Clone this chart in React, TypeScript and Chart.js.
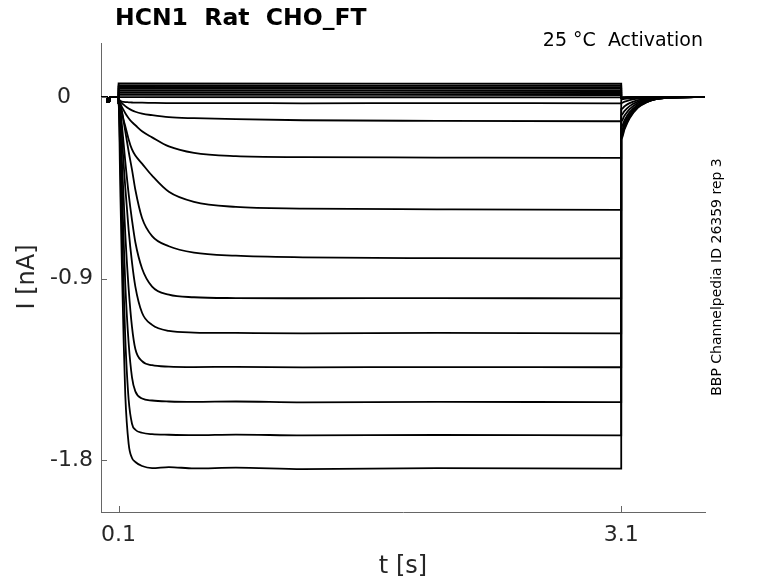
import React, { useEffect, useRef } from 'react';
import Chart from 'chart.js/auto';

// time bases (s)
const TIME_PRE = [0, 0.03, 0.031, 0.045, 0.046, 0.1];
const BASELINE = [0, 0, -0.025, -0.025, 0, 0];
const TIME_STEP = [0.1, 0.11, 0.12, 0.13, 0.14, 0.16, 0.18, 0.2, 0.24, 0.3, 0.4, 0.55, 0.8, 1.2, 2.0, 3.1];
const TIME_FLAT = [0.1, 3.1];
const TIME_TAIL = [3.1, 3.12, 3.15, 3.2, 3.25, 3.3, 3.4, 3.6];

// hyperpolarising sweeps, current in nA
const STEP_A = [-0.03, -0.45, -0.85, -1.2, -1.48, -1.72, -1.79, -1.81, -1.83, -1.84, -1.835, -1.842, -1.838, -1.845, -1.84, -1.843];
const TAIL_A = [-0.21, -0.16, -0.105, -0.052, -0.027, -0.012, -0.003, 0];
const STEP_B = [-0.03, -0.3, -0.62, -0.95, -1.2, -1.5, -1.62, -1.65, -1.665, -1.672, -1.675, -1.677, -1.674, -1.678, -1.676, -1.678];
const TAIL_B = [-0.2, -0.152, -0.1, -0.05, -0.026, -0.012, -0.003, 0];
const STEP_C = [-0.03, -0.2, -0.45, -0.7, -0.93, -1.22, -1.39, -1.46, -1.495, -1.505, -1.51, -1.512, -1.51, -1.514, -1.512, -1.513];
const TAIL_C = [-0.19, -0.145, -0.095, -0.048, -0.025, -0.011, -0.003, 0];
const STEP_D = [-0.03, -0.14, -0.32, -0.5, -0.68, -0.95, -1.14, -1.25, -1.31, -1.33, -1.337, -1.339, -1.338, -1.341, -1.339, -1.34];
const TAIL_D = [-0.18, -0.137, -0.09, -0.045, -0.023, -0.011, -0.003, 0];
const STEP_E = [-0.03, -0.09, -0.2, -0.33, -0.45, -0.66, -0.82, -0.94, -1.07, -1.13, -1.16, -1.168, -1.17, -1.172, -1.17, -1.172];
const TAIL_E = [-0.17, -0.13, -0.085, -0.043, -0.022, -0.01, -0.003, 0];
const STEP_F = [-0.03, -0.06, -0.14, -0.23, -0.32, -0.48, -0.61, -0.72, -0.85, -0.94, -0.98, -0.993, -0.997, -0.998, -0.997, -0.999];
const TAIL_F = [-0.15, -0.115, -0.075, -0.038, -0.019, -0.009, -0.002, 0];
const STEP_G = [-0.03, -0.04, -0.07, -0.12, -0.17, -0.27, -0.36, -0.46, -0.6, -0.69, -0.74, -0.772, -0.787, -0.795, -0.799, -0.8];
const TAIL_G = [-0.12, -0.092, -0.06, -0.03, -0.015, -0.007, -0.002, 0];
const STEP_H = [-0.025, -0.045, -0.08, -0.115, -0.145, -0.21, -0.26, -0.29, -0.33, -0.39, -0.47, -0.52, -0.545, -0.553, -0.557, -0.56];
const TAIL_H = [-0.09, -0.069, -0.045, -0.023, -0.012, -0.005, -0.001, 0];
const STEP_I = [-0.02, -0.03, -0.05, -0.065, -0.08, -0.105, -0.125, -0.14, -0.17, -0.2, -0.245, -0.277, -0.293, -0.298, -0.3, -0.302];
const TAIL_I = [-0.06, -0.046, -0.03, -0.015, -0.008, -0.004, -0.001, 0];
const STEP_J = [-0.015, -0.02, -0.03, -0.038, -0.045, -0.057, -0.066, -0.073, -0.082, -0.09, -0.1, -0.105, -0.11, -0.115, -0.118, -0.12];
const TAIL_J = [-0.03, -0.023, -0.015, -0.008, -0.004, -0.002, 0, 0];
const STEP_K = [-0.012, -0.018, -0.022, -0.024, -0.025, -0.026, -0.027, -0.028, -0.028, -0.029, -0.03, -0.03, -0.03, -0.031, -0.03, -0.031];
const TAIL_K = [-0.012, -0.009, -0.006, -0.003, -0.001, 0, 0, 0];

// near-zero and depolarising sweeps (flat)
const FLAT_0 = [0.0, -0.002];
const FLAT_1 = [0.012, 0.01];
const FLAT_2 = [0.022, 0.02];
const FLAT_3 = [0.032, 0.03];
const FLAT_4 = [0.042, 0.04];
const FLAT_5 = [0.05, 0.048];
const FLAT_6 = [0.058, 0.056];
const FLAT_7 = [0.068, 0.066];
const TAIL_FLAT = [-0.004, -0.003, -0.002, -0.001, 0, 0, 0, 0];

const TRACES = [
  { times: TIME_STEP, step: STEP_A, tail: TAIL_A },
  { times: TIME_STEP, step: STEP_B, tail: TAIL_B },
  { times: TIME_STEP, step: STEP_C, tail: TAIL_C },
  { times: TIME_STEP, step: STEP_D, tail: TAIL_D },
  { times: TIME_STEP, step: STEP_E, tail: TAIL_E },
  { times: TIME_STEP, step: STEP_F, tail: TAIL_F },
  { times: TIME_STEP, step: STEP_G, tail: TAIL_G },
  { times: TIME_STEP, step: STEP_H, tail: TAIL_H },
  { times: TIME_STEP, step: STEP_I, tail: TAIL_I },
  { times: TIME_STEP, step: STEP_J, tail: TAIL_J },
  { times: TIME_STEP, step: STEP_K, tail: TAIL_K },
  { times: TIME_FLAT, step: FLAT_0, tail: TAIL_FLAT },
  { times: TIME_FLAT, step: FLAT_1, tail: TAIL_FLAT },
  { times: TIME_FLAT, step: FLAT_2, tail: TAIL_FLAT },
  { times: TIME_FLAT, step: FLAT_3, tail: TAIL_FLAT },
  { times: TIME_FLAT, step: FLAT_4, tail: TAIL_FLAT },
  { times: TIME_FLAT, step: FLAT_5, tail: TAIL_FLAT },
  { times: TIME_FLAT, step: FLAT_6, tail: TAIL_FLAT },
  { times: TIME_FLAT, step: FLAT_7, tail: TAIL_FLAT },
];

const X_TICKS = [0.1, 3.1];
const X_TICK_LABELS = ['0.1', '3.1'];
const Y_TICKS = [-1.8, -0.9, 0];
const Y_TICK_LABELS = ['-1.8', '-0.9', '0\u2002\u2002'];

const TITLE = 'HCN1  Rat  CHO_FT';
const SUBTITLE = '25 \u00B0C  Activation';
const SIDE_NOTE = 'BBP Channelpedia ID 26359 rep 3';
const X_LABEL = 't [s]';
const Y_LABEL = 'I [nA]';

const FONT = "'DejaVu Sans', sans-serif";
const AXIS_COLOR = '#666666';
const TEXT_COLOR = '#262626';

const toPoints = (xs: number[], ys: number[]) => xs.map((x, i) => ({ x, y: ys[i] }));

const decorPlugin = {
  id: 'decor',
  afterDraw(chart: any) {
    const { ctx, chartArea, scales } = chart;
    ctx.save();
    // inward tick marks
    ctx.strokeStyle = AXIS_COLOR;
    ctx.lineWidth = 1;
    ctx.beginPath();
    Y_TICKS.forEach((v) => {
      const y = Math.round(scales.y.getPixelForValue(v)) + 0.5;
      ctx.moveTo(chartArea.left, y);
      ctx.lineTo(chartArea.left + 6, y);
    });
    X_TICKS.forEach((v) => {
      const x = Math.round(scales.x.getPixelForValue(v)) + 0.5;
      ctx.moveTo(x, chartArea.bottom);
      ctx.lineTo(x, chartArea.bottom - 6);
    });
    ctx.stroke();

    ctx.textBaseline = 'middle';
    ctx.fillStyle = '#000';
    ctx.font = `bold 23.5px ${FONT}`;
    ctx.textAlign = 'left';
    ctx.fillText(TITLE, 115, 19);

    ctx.font = `19px ${FONT}`;
    ctx.textAlign = 'right';
    ctx.fillText(SUBTITLE, 703, 41);

    ctx.fillStyle = TEXT_COLOR;
    ctx.font = `24px ${FONT}`;
    ctx.textAlign = 'center';
    ctx.fillText(X_LABEL, 403, 567);

    ctx.save();
    ctx.translate(28, 277);
    ctx.rotate(-Math.PI / 2);
    ctx.fillText(Y_LABEL, 0, 0);
    ctx.restore();

    ctx.save();
    ctx.fillStyle = '#000';
    ctx.font = `14px ${FONT}`;
    ctx.translate(717, 277);
    ctx.rotate(-Math.PI / 2);
    ctx.fillText(SIDE_NOTE, 0, 0);
    ctx.restore();

    ctx.restore();
  },
};

const App: React.FC = () => {
  const chartRef = useRef<HTMLCanvasElement>(null);
  const chartInstance = useRef<Chart | null>(null);

  useEffect(() => {
    if (!chartRef.current) return;
    if (chartInstance.current) chartInstance.current.destroy();

    const datasets = TRACES.map((tr) => ({
      data: [
        ...toPoints(TIME_PRE, BASELINE),
        ...toPoints(tr.times, tr.step),
        ...toPoints(TIME_TAIL, tr.tail),
      ],
      borderColor: '#000000',
      borderWidth: 1.8,
      pointRadius: 0,
      cubicInterpolationMode: 'monotone' as const,
      fill: false,
    }));

    chartInstance.current = new Chart(chartRef.current, {
      type: 'line',
      data: { datasets },
      plugins: [decorPlugin],
      options: {
        animation: false,
        responsive: true,
        maintainAspectRatio: false,
        layout: { padding: { left: 0, top: 43, right: 73, bottom: 0 } },
        plugins: {
          legend: { display: false },
          tooltip: { enabled: false },
        },
        scales: {
          x: {
            type: 'linear',
            min: -0.005,
            max: 3.6,
            grid: { display: false, drawTicks: false },
            border: { display: true, color: AXIS_COLOR, width: 1 },
            afterBuildTicks: (scale: any) => {
              scale.ticks = X_TICKS.map((v) => ({ value: v }));
            },
            afterFit: (scale: any) => {
              scale.height = 71;
            },
            ticks: {
              autoSkip: false,
              maxRotation: 0,
              padding: 10,
              color: TEXT_COLOR,
              font: { family: FONT, size: 22 },
              callback: (v: any) => X_TICK_LABELS[X_TICKS.indexOf(Number(v))] ?? '',
            },
          },
          y: {
            type: 'linear',
            min: -2.058,
            max: 0.268,
            grid: { display: false, drawTicks: false },
            border: { display: true, color: AXIS_COLOR, width: 1 },
            afterBuildTicks: (scale: any) => {
              scale.ticks = Y_TICKS.map((v) => ({ value: v }));
            },
            afterFit: (scale: any) => {
              scale.width = 101;
            },
            ticks: {
              autoSkip: false,
              padding: 8,
              color: TEXT_COLOR,
              font: { family: FONT, size: 22 },
              callback: (v: any) => Y_TICK_LABELS[Y_TICKS.indexOf(Number(v))] ?? '',
            },
          },
        },
      },
    });

    return () => {
      if (chartInstance.current) {
        chartInstance.current.destroy();
        chartInstance.current = null;
      }
    };
  }, []);

  return (
    <div style={{ position: 'fixed', left: 0, top: 0, width: '778px', height: '583px', background: '#fff' }}>
      <canvas ref={chartRef}></canvas>
    </div>
  );
};

export default App;
